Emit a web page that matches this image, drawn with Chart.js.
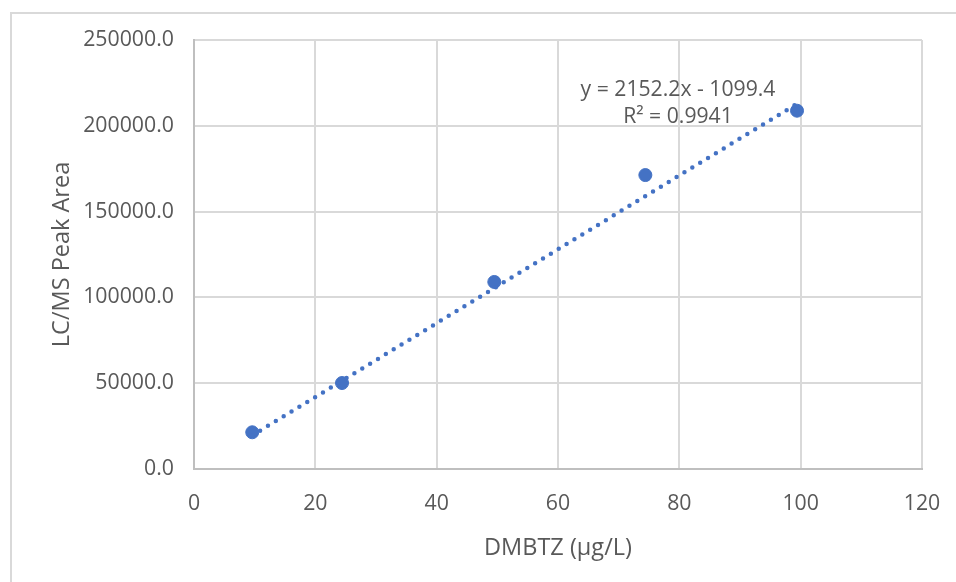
<!DOCTYPE html>
<html>
<head>
<meta charset="utf-8">
<script src="https://cdn.jsdelivr.net/npm/chart.js@4/dist/chart.umd.min.js"></script>
<style>
  html, body { margin: 0; padding: 0; background: #fff; }
  #wrap { position: relative; width: 956px; height: 582px; }
  #frame { position: absolute; left: 10px; top: 12px; right: -2px; bottom: -2px;
           border-left: 2px solid #d9d9d9; border-top: 2px solid #d9d9d9; }
  canvas { position: absolute; left: 0; top: 0; }
</style>
</head>
<body>
<div id="wrap">
  <div id="frame"></div>
  <canvas id="myChart" width="956" height="582"></canvas>
</div>
<script>
// 浓度 (x) 和 峰面积 (y)
var concData = [9.6, 24.4, 49.5, 74.4, 99.4];
var areaData = [21400, 50100, 109000, 171300, 208800];

// 趋势线参数
var trendSlope = 2152.2,
    trendIntercept = -1099.4;
var trendLabel = ["y = 2152.2x - 1099.4", "R\u00b2 = 0.9941"];

var xTitle = "DMBTZ (\u03bcg/L)",
    yTitle = "LC/MS Peak Area";

var fontFam = "'Open Sans', 'Noto Sans', sans-serif",
    textColor = "#595959",
    gridColor = "#d9d9d9",
    blue = "#4472C4";

var points = concData.map(function(x, i){ return {x: x, y: areaData[i]}; });

var xMin = Math.min.apply(null, concData),
    xMax = Math.max.apply(null, concData);
var trendPoints = [xMin, xMax].map(function(x){
    return {x: x, y: trendSlope * x + trendIntercept};
});

// 公式文字
var eqPlugin = {
    id: 'eqText',
    afterDatasetsDraw: function(chart){
        var ctx = chart.ctx, a = chart.chartArea;
        ctx.save();
        ctx.font = "21.2px " + fontFam;
        ctx.fillStyle = textColor;
        ctx.textAlign = "center";
        ctx.textBaseline = "middle";
        ctx.fillText(trendLabel[0], a.left + 484, a.top + 50);
        ctx.fillText(trendLabel[1], a.left + 484, a.top + 77);
        ctx.restore();
    }
};

var ctx = document.getElementById("myChart").getContext("2d");
new Chart(ctx, {
    type: 'scatter',
    data: {
        datasets: [
            {
                label: 'trend',
                data: trendPoints,
                showLine: true,
                borderColor: blue,
                borderWidth: 4.5,
                borderDash: [0, 9.2],
                borderCapStyle: 'round',
                pointRadius: 0,
                fill: false
            },
            {
                label: 'data',
                data: points,
                backgroundColor: blue,
                borderColor: blue,
                pointRadius: 6.5,
                pointHoverRadius: 6.5
            }
        ]
    },
    options: {
        responsive: false,
        animation: false,
        events: [],
        layout: { padding: { left: 0, top: 40, right: 34, bottom: 0 } },
        plugins: { legend: { display: false }, tooltip: { enabled: false } },
        scales: {
            x: {
                type: 'linear',
                min: 0, max: 120,
                ticks: { stepSize: 20, color: textColor, font: { size: 21.3, family: fontFam }, padding: 22,
                         callback: function(v){ return v; } },
                grid: { color: gridColor, lineWidth: 2, drawTicks: false },
                border: { color: '#bfbfbf', width: 2 },
                title: { display: true, text: xTitle, color: textColor,
                         font: { size: 23.5, family: fontFam }, padding: { top: 4, bottom: 20 } },
                afterFit: function(s){ s.height = 113; s.paddingLeft = 0; s.paddingRight = 0; }
            },
            y: {
                type: 'linear',
                min: 0, max: 250000,
                ticks: { stepSize: 50000, color: textColor, font: { size: 21.3, family: fontFam }, padding: 20,
                         callback: function(v){ return v.toFixed(1); } },
                grid: { color: gridColor, lineWidth: 2, drawTicks: false },
                border: { color: '#bfbfbf', width: 2 },
                title: { display: true, text: yTitle, color: textColor,
                         font: { size: 23.5, family: fontFam }, padding: { top: 48, bottom: 0 } },
                afterFit: function(s){ s.width = 194; s.paddingTop = 0; s.paddingBottom = 0; }
            }
        }
    },
    plugins: [eqPlugin]
});
</script>
</body>
</html>
